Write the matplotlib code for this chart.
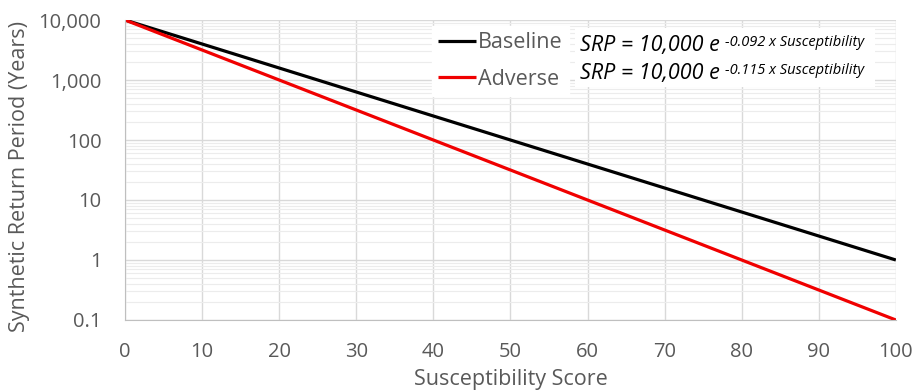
import matplotlib.pyplot as plt
from matplotlib.ticker import FixedLocator, LogLocator, NullFormatter
from matplotlib.patches import Rectangle

### Data
score     = [0, 100]
baseline  = [10000, 1]
adverse   = [10000, 0.1]
x_ticks   = [0, 10, 20, 30, 40, 50, 60, 70, 80, 90, 100]
y_ticks   = [0.1, 1, 10, 100, 1000, 10000]
y_labels  = ['0.1', '1', '10', '100', '1,000', '10,000']
eq_main   = ['SRP = 10,000 e', 'SRP = 10,000 e']
eq_exp    = ['-0.092 x Susceptibility', '-0.115 x Susceptibility']

plt.rcParams['font.family'] = ['Open Sans', 'DejaVu Sans']
gray = '#595959'

fig = plt.figure(figsize=(9.16, 3.90), dpi=100)
ax = fig.add_axes([0.1365, 0.1795, 0.8415, 0.7692])

ax.plot(score, baseline, color='black', lw=2.3, label='Baseline', solid_capstyle='butt')
ax.plot(score, adverse, color='#f00000', lw=2.3, label='Adverse', solid_capstyle='butt')

ax.set_yscale('log')
ax.set_xlim(0, 100)
ax.set_ylim(0.1, 10000)
ax.xaxis.set_major_locator(FixedLocator(x_ticks))
ax.yaxis.set_major_locator(FixedLocator(y_ticks))
ax.set_yticklabels(y_labels)
ax.yaxis.set_minor_locator(LogLocator(base=10, subs=range(2, 10)))
ax.yaxis.set_minor_formatter(NullFormatter())
ax.tick_params(which='both', length=0, labelsize=14.5, colors=gray)
ax.tick_params(axis='y', pad=17)
ax.tick_params(axis='x', pad=16)

ax.grid(which='major', color='#d9d9d9', lw=1.0)
ax.grid(which='minor', axis='y', color='#ececec', lw=0.8)
ax.set_axisbelow(True)
for s in ['top', 'right']:
    ax.spines[s].set_visible(False)
for s in ['left', 'bottom']:
    ax.spines[s].set_color('#bfbfbf')

ax.set_xlabel('Susceptibility Score', fontsize=15.5, color=gray)
ax.set_ylabel('Synthetic Return Period (Years)', fontsize=15.5, color=gray)
ax.xaxis.set_label_coords(0.5, -0.165)
ax.yaxis.set_label_coords(-0.123, 0.477)

leg = ax.legend(loc='upper left', bbox_to_anchor=(0.398, 0.98), frameon=True,
                fancybox=False, edgecolor='white', framealpha=1, fontsize=15.5,
                handlelength=1.75, handletextpad=0.1, labelspacing=0.72,
                borderpad=0.3, borderaxespad=0)
for t in leg.get_texts():
    t.set_color(gray)

# white box behind the equations
ax.add_patch(Rectangle((0.584, 0.777), 0.389, 0.196, transform=ax.transAxes,
                       facecolor='white', edgecolor='none', zorder=3))

fig.canvas.draw()
renderer = fig.canvas.get_renderer()
eq_y = [0.869, 0.797]
for i in range(2):
    t = fig.text(0.633, eq_y[i], eq_main[i], fontsize=15.5, style='italic',
                 color='black', va='baseline', zorder=5)
    bb = t.get_window_extent(renderer)
    x_end = (bb.x1 + 5) / fig.bbox.width
    fig.text(x_end, eq_y[i] + 0.014, eq_exp[i], fontsize=10.5, style='italic',
             color='black', va='baseline', zorder=5)

fig.savefig('out.png', dpi=100)
